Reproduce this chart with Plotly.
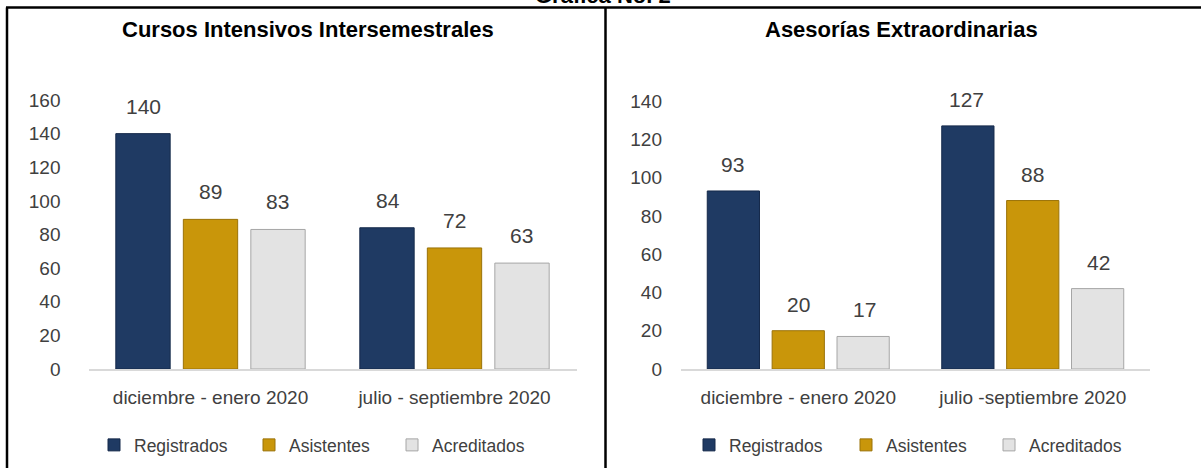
import plotly.graph_objects as go

W, H = 1201, 468

# ---- data ----
series = ["Registrados", "Asistentes", "Acreditados"]
colors = ["#1F3A63", "#C9960A", "#E3E3E3"]
edge_colors = ["#15294A", "#9A7208", "#A6A6A6"]

left_title = "Cursos Intensivos Intersemestrales"
left_categories = ["diciembre - enero 2020", "julio - septiembre 2020"]
left_values = {
    "Registrados": [140, 84],
    "Asistentes": [89, 72],
    "Acreditados": [83, 63],
}
left_ticks = [0, 20, 40, 60, 80, 100, 120, 140, 160]

right_title = "Asesorías Extraordinarias"
right_categories = ["diciembre - enero 2020", "julio -septiembre 2020"]
right_values = {
    "Registrados": [93, 127],
    "Asistentes": [20, 88],
    "Acreditados": [17, 42],
}
right_ticks = [0, 20, 40, 60, 80, 100, 120, 140]

FONT = "Liberation Sans, Arial, sans-serif"
TXT = "#404040"


def px_x(p):
    return p / W


def px_y(p):
    return 1 - p / H


fig = go.Figure()

left_lw = [110, 98, 100]
right_lw = [112, 98, 100]

for i, s in enumerate(series):
    fig.add_trace(go.Bar(
        x=left_categories, y=left_values[s], name=s,
        marker=dict(color=colors[i], line=dict(color=edge_colors[i], width=1)),
        xaxis="x", yaxis="y", legend="legend", legendwidth=left_lw[i],
    ))
for i, s in enumerate(series):
    fig.add_trace(go.Bar(
        x=right_categories, y=right_values[s], name=s,
        marker=dict(color=colors[i], line=dict(color=edge_colors[i], width=1)),
        xaxis="x2", yaxis="y2", legend="legend2", legendwidth=right_lw[i],
    ))

# value labels above bars (shifted to each bar of the group)
label_font = dict(family=FONT, size=21, color=TXT)
left_shift = [-67, 0, 67]
right_shift = [-66, 0, 66]
for i, s in enumerate(series):
    for c, v in zip(left_categories, left_values[s]):
        fig.add_annotation(x=c, y=v, xref="x", yref="y", text=str(v),
                           showarrow=False, xshift=left_shift[i], yshift=14,
                           yanchor="bottom", font=label_font)
    for c, v in zip(right_categories, right_values[s]):
        fig.add_annotation(x=c, y=v, xref="x2", yref="y2", text=str(v),
                           showarrow=False, xshift=right_shift[i], yshift=13,
                           yanchor="bottom", font=label_font)

axis_font = dict(family=FONT, size=19, color=TXT)
legend_font = dict(family=FONT, size=17.5, color=TXT)

fig.update_layout(
    width=W, height=H,
    margin=dict(l=0, r=0, t=0, b=0, autoexpand=False),
    paper_bgcolor="white", plot_bgcolor="white",
    barmode="group", bargap=0.17, bargroupgap=0.195,
    font=dict(family=FONT, color=TXT),
    xaxis=dict(domain=[px_x(88.5), px_x(576.5)], anchor="y",
               showline=True, linecolor="#D9D9D9", linewidth=2,
               showgrid=False, ticks="", tickfont=axis_font,
               ticklabelstandoff=10, fixedrange=True),
    yaxis=dict(domain=[px_y(369), px_y(100)], anchor="x",
               range=[0, 160], tickvals=left_ticks, showgrid=False,
               showline=False, zeroline=False, tickfont=axis_font,
               ticklabelstandoff=27, fixedrange=True),
    xaxis2=dict(domain=[px_x(681), px_x(1150)], anchor="y2",
                showline=True, linecolor="#D9D9D9", linewidth=2,
                showgrid=False, ticks="", tickfont=axis_font,
                ticklabelstandoff=10, fixedrange=True),
    yaxis2=dict(domain=[px_y(369), px_y(101)], anchor="x2",
                range=[0, 140], tickvals=right_ticks, showgrid=False,
                showline=False, zeroline=False, tickfont=axis_font,
                ticklabelstandoff=18, fixedrange=True),
    legend=dict(orientation="h", x=px_x(94), y=px_y(445), xanchor="left",
                yanchor="middle", font=legend_font,
                bgcolor="rgba(0,0,0,0)", traceorder="normal"),
    legend2=dict(orientation="h", x=px_x(689), y=px_y(445), xanchor="left",
                 yanchor="middle", font=legend_font,
                 bgcolor="rgba(0,0,0,0)", traceorder="normal"),
    showlegend=True,
)

title_font = dict(family=FONT, size=22, color="black", weight="bold")
fig.add_annotation(text=left_title, x=px_x(308), y=px_y(30), xref="paper",
                   yref="paper", showarrow=False, font=title_font,
                   xanchor="center", yanchor="middle")
fig.add_annotation(text=right_title, x=px_x(901), y=px_y(30), xref="paper",
                   yref="paper", showarrow=False, font=title_font,
                   xanchor="center", yanchor="middle")
fig.add_annotation(text="Gráfica No. 2", x=px_x(603), y=px_y(-5), xref="paper",
                   yref="paper", showarrow=False, font=title_font,
                   xanchor="center", yanchor="middle")

line = dict(color="black", width=2.5)
fig.add_shape(type="line", xref="paper", yref="paper", x0=px_x(6), x1=1,
              y0=px_y(7.5), y1=px_y(7.5), line=line)
fig.add_shape(type="line", xref="paper", yref="paper", x0=px_x(7), x1=px_x(7),
              y0=px_y(7.5), y1=0, line=line)
fig.add_shape(type="line", xref="paper", yref="paper", x0=px_x(605.5),
              x1=px_x(605.5), y0=px_y(7.5), y1=0, line=line)

fig.write_html(
    "out.html",
    config={"displayModeBar": False},
    post_script="document.body.style.margin='0';document.body.style.overflow='hidden';",
)
